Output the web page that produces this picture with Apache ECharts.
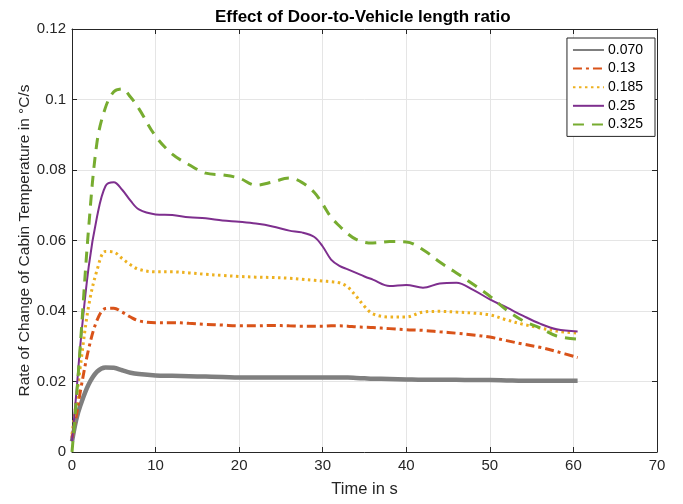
<!DOCTYPE html>
<html>
<head>
<meta charset="utf-8">
<script src="https://cdn.jsdelivr.net/npm/echarts@6/dist/echarts.min.js"></script>
<style>html,body{margin:0;padding:0;background:#fff}#c{width:683px;height:504px}</style>
</head>
<body>
<div id="c"></div>
<script>
const times = [0, 0.5, 1, 2, 3, 4, 5, 6, 7, 8, 10, 12, 14, 16, 18, 20, 22, 24, 26, 27.5, 29, 30, 31, 32, 33, 34, 35, 36, 38, 40, 42, 44, 46, 48, 50, 52, 54, 56, 58, 60.5];
const seriesNames = ['0.070', '0.13', '0.185', '0.25', '0.325'];
const r070 = [0.003, 0.0091, 0.0132, 0.0192, 0.0228, 0.024, 0.0239, 0.0232, 0.0225, 0.0221, 0.0217, 0.0216, 0.0215, 0.0214, 0.0213, 0.0211, 0.0211, 0.0211, 0.0211, 0.0211, 0.0211, 0.0211, 0.0211, 0.0211, 0.0211, 0.021, 0.0209, 0.0208, 0.0207, 0.0206, 0.0205, 0.0205, 0.0205, 0.0204, 0.0204, 0.0203, 0.0202, 0.0202, 0.0202, 0.0202];
const r013 = [0.004, 0.0101, 0.0172, 0.0293, 0.0374, 0.0407, 0.0408, 0.0397, 0.0383, 0.0372, 0.0367, 0.0367, 0.0365, 0.0362, 0.036, 0.0358, 0.0358, 0.0359, 0.0358, 0.0357, 0.0357, 0.0357, 0.0358, 0.0358, 0.0357, 0.0355, 0.0354, 0.0353, 0.035, 0.0347, 0.0345, 0.0341, 0.0337, 0.0332, 0.0326, 0.0316, 0.0306, 0.0297, 0.0285, 0.0268];
const r0185 = [0.005, 0.0142, 0.0243, 0.0415, 0.0516, 0.0569, 0.0567, 0.0549, 0.0531, 0.0518, 0.0511, 0.0511, 0.0508, 0.0504, 0.0501, 0.0498, 0.0496, 0.0495, 0.0493, 0.049, 0.0487, 0.0485, 0.0483, 0.048, 0.0468, 0.0442, 0.0413, 0.0392, 0.0383, 0.0383, 0.0397, 0.0399, 0.0397, 0.0394, 0.0389, 0.0375, 0.0362, 0.0352, 0.0343, 0.0337];
const r025 = [0.003, 0.0162, 0.0304, 0.0526, 0.0668, 0.0754, 0.0765, 0.0744, 0.0713, 0.0688, 0.0674, 0.0672, 0.0666, 0.0663, 0.0657, 0.0653, 0.0648, 0.064, 0.0628, 0.0623, 0.061, 0.0583, 0.0546, 0.0528, 0.0518, 0.0508, 0.0498, 0.0489, 0.0471, 0.0474, 0.0466, 0.0478, 0.048, 0.046, 0.0433, 0.041, 0.0386, 0.0364, 0.0348, 0.0342];
const r0325 = [0.0, 0.0142, 0.0304, 0.0638, 0.088, 0.0977, 0.1022, 0.103, 0.1007, 0.0974, 0.0896, 0.0845, 0.0815, 0.0791, 0.0786, 0.0777, 0.0757, 0.0766, 0.0777, 0.0765, 0.0736, 0.0703, 0.0666, 0.0641, 0.0619, 0.0603, 0.0595, 0.0593, 0.0597, 0.0596, 0.0574, 0.0539, 0.0508, 0.0476, 0.0442, 0.0403, 0.0372, 0.0352, 0.0329, 0.032];
const xTicks = [0, 10, 20, 30, 40, 50, 60, 70];
const yTicks = [0, 0.02, 0.04, 0.06, 0.08, 0.1, 0.12];

const allValues = [r070, r013, r0185, r025, r0325];
const colors = ['#7f7f7f', '#D95319', '#EDB120', '#7E2F8E', '#77AC30'];
const styles = [
  {type: 'solid', width: 4.5},
  {type: [9, 4, 3, 4], width: 3},
  {type: [2.5, 3.5], width: 3},
  {type: 'solid', width: 2},
  {type: [11, 8], width: 3}
];
const font = 'Liberation Sans, Arial, sans-serif';
const axisColor = '#262626';

const series = seriesNames.map((n, i) => ({
  name: n,
  type: 'line',
  smooth: 0.35,
  symbol: 'none',
  data: times.map((t, j) => [t, allValues[i][j]]),
  lineStyle: {color: colors[i], width: styles[i].width, type: styles[i].type, cap: 'butt'},
  itemStyle: {color: colors[i]},
  z: 2 + i
}));

const chart = echarts.init(document.getElementById('c'));
chart.setOption({
  animation: false,
  backgroundColor: '#fff',
  title: {
    text: 'Effect of Door-to-Vehicle length ratio',
    left: 210, top: 4,
    textStyle: {fontFamily: font, fontSize: 17, fontWeight: 'bold', color: '#000'}
  },
  legend: {
    orient: 'vertical', right: 28, top: 38,
    itemWidth: 31, itemHeight: 13, itemGap: 4.6,
    padding: [5, 12, 5, 5],
    borderColor: axisColor, borderWidth: 1, backgroundColor: '#fff',
    itemStyle: {opacity: 0},
    textStyle: {fontFamily: font, fontSize: 14, color: '#000', padding: [0, 0, 0, -1]},
    data: seriesNames
  },
  grid: {left: 72, right: 26, top: 29, bottom: 52, containLabel: false},
  xAxis: [{
    type: 'value', min: 0, max: 70, interval: 10,
    name: 'Time in s', nameLocation: 'middle', nameGap: 29, nameMoveOverlap: false,
    nameTextStyle: {fontFamily: font, fontSize: 16.5, color: axisColor},
    axisLine: {onZero: false, lineStyle: {color: axisColor, width: 1}},
    axisTick: {inside: true, length: 5, lineStyle: {color: axisColor}},
    axisLabel: {fontFamily: font, fontSize: 15, color: axisColor, margin: 6,
      formatter: v => xTicks.includes(v) ? String(v) : ''},
    splitLine: {show: true, lineStyle: {color: '#e5e5e5', width: 1}}
  }, {
    type: 'value', min: 0, max: 70, interval: 10, position: 'top',
    axisLine: {show: true, onZero: false, lineStyle: {color: axisColor, width: 1}},
    axisTick: {show: true, inside: true, length: 5, lineStyle: {color: axisColor}},
    axisLabel: {show: false}, splitLine: {show: false}
  }],
  yAxis: [{
    type: 'value', min: 0, max: 0.12, interval: 0.02,
    name: 'Rate of Change of Cabin Temperature in °C/s', nameLocation: 'middle', nameGap: 39, nameMoveOverlap: false,
    nameTextStyle: {fontFamily: font, fontSize: 15.5, color: axisColor},
    axisLine: {show: true, onZero: false, lineStyle: {color: axisColor, width: 1}},
    axisTick: {show: true, inside: true, length: 5, lineStyle: {color: axisColor}},
    axisLabel: {fontFamily: font, fontSize: 15, color: axisColor, margin: 6,
      formatter: v => { const t = yTicks.find(y => Math.abs(y - v) < 1e-9); return t === undefined ? '' : String(+t.toFixed(2)); }},
    splitLine: {show: true, lineStyle: {color: '#e5e5e5', width: 1}}
  }, {
    type: 'value', min: 0, max: 0.12, interval: 0.02, position: 'right',
    axisLine: {show: true, onZero: false, lineStyle: {color: axisColor, width: 1}},
    axisTick: {show: true, inside: true, length: 5, lineStyle: {color: axisColor}},
    axisLabel: {show: false}, splitLine: {show: false}
  }],
  series: series
});
</script>
</body>
</html>
